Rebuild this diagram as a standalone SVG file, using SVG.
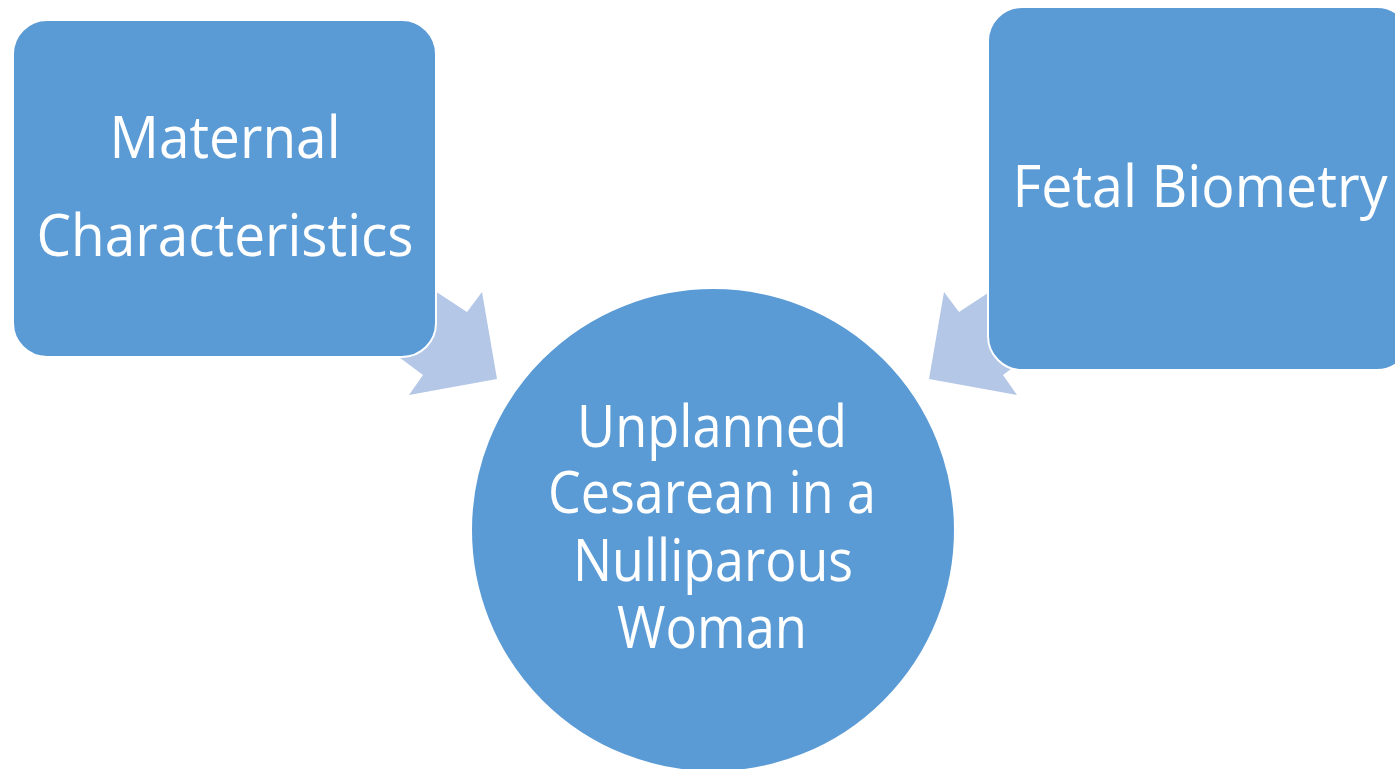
<svg xmlns="http://www.w3.org/2000/svg" width="1395" height="769" viewBox="0 0 1395 769">
<style>
.node{fill:#5B9BD5;stroke:#FFFFFF;stroke-width:2}
.arrow{fill:#B4C7E7;stroke:none}
.lbl{font-family:"Open Sans","Noto Sans","Liberation Sans",sans-serif;font-size:58px;fill:#FFFFFF;text-anchor:middle}
</style>
<rect width="1395" height="769" fill="#FFFFFF"/>
<g id="connectors">
<polygon class="arrow" points="380,255 467,312 482,292 497,379 409,395 423,375 340,313"/>
<polygon class="arrow" points="1046,255 959,312 944,292 929,379 1017,395 1003,375 1086,313"/>
</g>
<g id="node-maternal">
<rect class="node" x="13" y="20" width="423" height="337" rx="34" ry="34"/>
<text class="lbl" x="225" y="158" textLength="231" lengthAdjust="spacingAndGlyphs">Maternal</text>
<text class="lbl" x="225" y="256" textLength="377" lengthAdjust="spacingAndGlyphs">Characteristics</text>
</g>
<g id="node-fetal">
<rect class="node" x="988" y="7" width="423" height="363" rx="34" ry="34"/>
<text class="lbl" x="1200" y="207" textLength="375" lengthAdjust="spacingAndGlyphs">Fetal Biometry</text>
</g>
<g id="node-outcome">
<circle class="node" cx="713" cy="530" r="242" stroke="none"/>
<text class="lbl" x="712" y="447" textLength="270" lengthAdjust="spacingAndGlyphs">Unplanned</text>
<text class="lbl" x="712" y="513" textLength="328" lengthAdjust="spacingAndGlyphs">Cesarean in a</text>
<text class="lbl" x="713" y="581" textLength="280" lengthAdjust="spacingAndGlyphs">Nulliparous</text>
<text class="lbl" x="712" y="648" textLength="190" lengthAdjust="spacingAndGlyphs">Woman</text>
</g>
</svg>
